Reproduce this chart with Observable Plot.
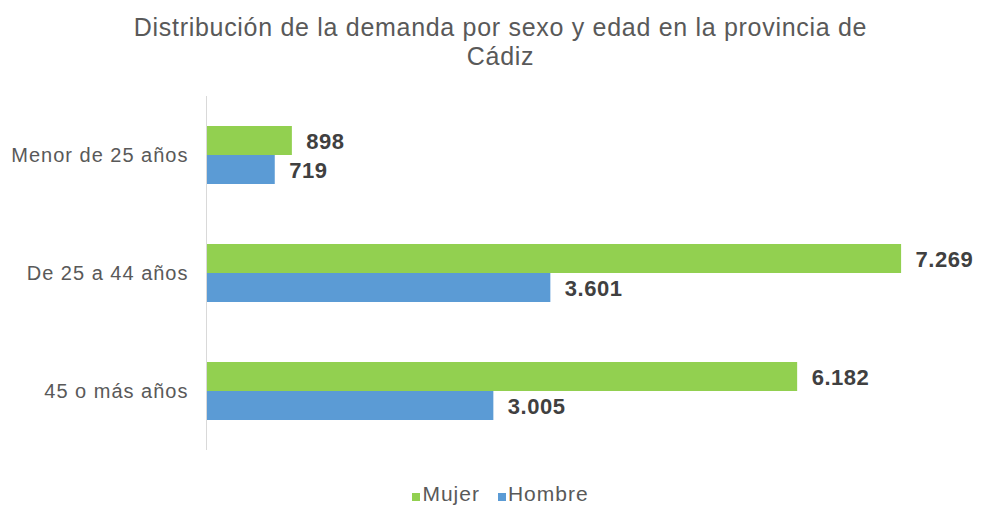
<!DOCTYPE html>
<html>
<head>
<meta charset="utf-8">
<script src="https://cdn.jsdelivr.net/npm/d3@7"></script>
<script src="https://cdn.jsdelivr.net/npm/@observablehq/plot@0.6"></script>
<style>
  html, body { margin: 0; padding: 0; background: #fff; }
  body { width: 981px; height: 506px; overflow: hidden; font-family: "Liberation Sans", Arial, sans-serif; }
  #title { height: 85px; box-sizing: border-box; padding-top: 13px; text-align: center; color: #595959; font-size: 25px; line-height: 29px; letter-spacing: 0.7px; padding-left: 20px; }
  #legend { display: flex; justify-content: center; align-items: center; gap: 18px; color: #595959; font-size: 21px; letter-spacing: 1px; margin-top: 22px; padding-left: 20px; }
  .sw { display: inline-block; width: 8px; height: 8px; margin-right: 2px; }
  #chart g[aria-label="fy-axis tick label"] text { letter-spacing: 1px; }
  #chart g[aria-label="text"] text { letter-spacing: 0.5px; }
</style>
</head>
<body>
<div id="title">Distribución de la demanda por sexo y edad en la provincia de<br>Cádiz</div>
<div id="chart"></div>
<div id="legend"></div>
<script>
const ageGroups = ["Menor de 25 años", "De 25 a 44 años", "45 o más años"];
const sexes = ["Mujer", "Hombre"];
const mujer = [898, 7269, 6182];
const hombre = [719, 3601, 3005];
const colors = ["#92D050", "#5B9BD5"];

const data = [];
ageGroups.forEach((g, i) => {
  data.push({age: g, sex: "Mujer", value: mujer[i]});
  data.push({age: g, sex: "Hombre", value: hombre[i]});
});

const locale = d3.formatLocale({decimal: ",", thousands: ".", grouping: [3]});
const fmt = locale.format(",d");

const chart = Plot.plot({
  width: 981,
  height: 375,
  marginLeft: 206,
  marginRight: 10,
  marginTop: 10,
  marginBottom: 10,
  style: {fontFamily: "Liberation Sans, Arial, sans-serif", background: "#fff"},
  x: {domain: [0, 8000], axis: null},
  fy: {domain: ageGroups, padding: 0, label: null},
  y: {domain: sexes, paddingInner: 0, paddingOuter: 0.97, axis: null},
  color: {domain: sexes, range: colors},
  marks: [
    Plot.barX(data, {fy: "age", y: "sex", x: "value", fill: "sex", inset: 0}),
    Plot.ruleX([0], {stroke: "#D9D9D9", strokeWidth: 1}),
    Plot.text(data, {fy: "age", y: "sex", x: "value", text: d => fmt(d.value), textAnchor: "start", dx: 14, dy: 1, fill: "#404040", fontWeight: "bold", fontSize: 22}),
    Plot.axisFy({anchor: "left", tickSize: 0, tickPadding: 18, fontSize: 20, color: "#595959", label: null})
  ]
});
document.getElementById("chart").appendChild(chart);

const legend = document.getElementById("legend");
sexes.forEach((s, i) => {
  const item = document.createElement("span");
  item.innerHTML = `<span class="sw" style="background:${colors[i]}"></span>${s}`;
  legend.appendChild(item);
});
</script>
</body>
</html>
